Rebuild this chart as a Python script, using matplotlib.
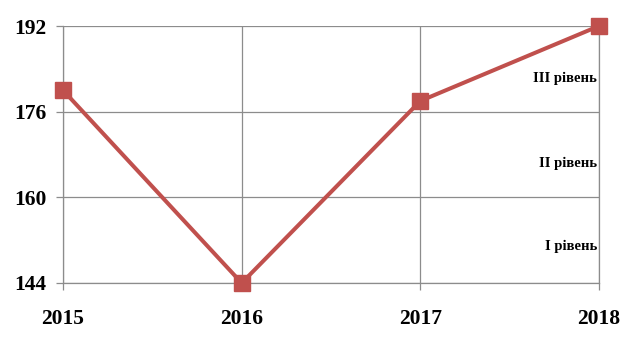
import matplotlib.pyplot as plt

roky = [2015, 2016, 2017, 2018]
bali = [180, 144, 178, 192]
y_ticks = [144, 160, 176, 192]
rivni = ["I рівень", "II рівень", "III рівень"]
rivni_y = [150.9, 166.4, 182.3]

plt.rcParams['font.family'] = ['Liberation Serif', 'DejaVu Serif']
plt.rcParams['font.weight'] = 'bold'

fig = plt.figure(figsize=(6.34, 3.39), dpi=100)
ax = fig.add_axes([0.0994, 0.1652, 0.8454, 0.7581])

ax.plot(roky, bali, color="#C0504D", linewidth=2.9, marker='s', markersize=11.5,
        zorder=3, clip_on=False)

ax.set_xlim(2015, 2018)
ax.set_ylim(144, 192)
ax.set_xticks(roky)
ax.set_yticks(y_ticks)
ax.grid(True, color="#8c8c8c", linewidth=0.9)
for s in ax.spines.values():
    s.set_visible(False)
for side in ['left', 'bottom', 'right']:
    ax.spines[side].set_visible(True)
    ax.spines[side].set_color("#8c8c8c")
    ax.spines[side].set_linewidth(0.9)
ax.tick_params(colors="#8c8c8c", labelcolor="black", labelsize=15.5, length=5, width=0.9)
ax.tick_params(axis='x', pad=14)
ax.tick_params(axis='y', pad=7)

for t, y in zip(rivni, rivni_y):
    ax.text(2017.99, y, t, ha='right', va='center', fontsize=10.5, fontweight='bold')

fig.savefig("out.png", dpi=100)
